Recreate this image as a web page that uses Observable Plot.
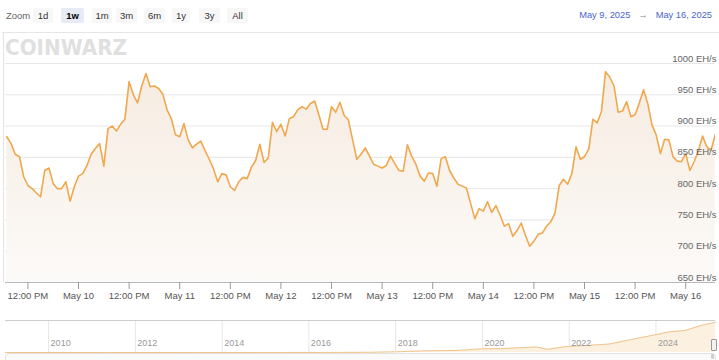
<!DOCTYPE html>
<html>
<head>
<meta charset="utf-8">
<script src="https://cdn.jsdelivr.net/npm/d3@7"></script>
<script src="https://cdn.jsdelivr.net/npm/@observablehq/plot@0.6"></script>
<style>
  html, body { margin: 0; padding: 0; background: #fff; }
  #wrap { position: relative; width: 719px; height: 360px; overflow: hidden; background: #fff;
          font-family: "Liberation Sans", Arial, sans-serif; }
  .abs { position: absolute; }
  .btn { position: absolute; top: 8px; height: 15px; line-height: 15px; font-size: 9.5px; color: #333;
         background: #f7f7f7; text-align: center; border-radius: 2px; }
  .btn.sel { background: #e6ebf5; color: #000; font-weight: bold; }
  svg.plot { position: absolute; left: 0; background: transparent !important; }
</style>
</head>
<body>
<div id="wrap"></div>
<script>
// ---------- data ----------
const seriesStart = "2025-05-09T07:00:00Z";           // first hourly sample
const hashrate = [                                    // EH/s, hourly samples
  883, 872, 855, 851, 819, 805, 800, 793, 787, 829, 833, 808, 800, 800, 811, 780, 803,
  820, 824, 837, 855, 864, 872, 836, 896, 900, 892, 903, 911, 971, 950, 937, 964, 984,
  963, 964, 960, 951, 926, 912, 886, 883, 904, 878, 865, 871, 876, 861, 847, 832, 811,
  824, 822, 803, 797, 811, 818, 816, 834, 845, 871, 842, 849, 906, 891, 903, 884, 912,
  915, 926, 931, 927, 936, 940, 918, 895, 895, 931, 922, 938, 917, 910, 878, 847, 855,
  865, 852, 839, 836, 833, 837, 852, 840, 829, 828, 870, 852, 839, 820, 812, 825, 824,
  804, 848, 851, 829, 817, 807, 804, 801, 776, 752, 768, 764, 779, 762, 773, 757, 740,
  744, 724, 733, 745, 725, 708, 716, 727, 729, 740, 747, 761, 805, 815, 807, 824, 867,
  847, 851, 863, 911, 905, 923, 987, 978, 964, 922, 924, 939, 915, 918, 937, 958, 936,
  902, 886, 856, 879, 878, 851, 844, 843, 856, 829, 843, 860, 884, 867, 861, 886
];
const yTicks = [650, 700, 750, 800, 850, 900, 950, 1000];
const viewStart = "2025-05-09T06:41:00Z";
const viewEnd = "2025-05-16T07:04:00Z";
const zoomButtons = ["1d", "1w", "1m", "3m", "6m", "1y", "3y", "All"];
const selectedButton = "1w";
const rangeFrom = "May 9, 2025";
const rangeTo = "May 16, 2025";

// navigator (full history, EH/s)
const navDates = ["2009-01-03", "2011-06-01", "2013-06-01", "2014-12-01", "2016-06-01", "2017-06-01",
  "2018-01-01", "2018-09-01", "2019-06-01", "2020-01-01", "2020-06-01", "2021-04-01", "2021-07-01",
  "2021-12-01", "2022-06-01", "2022-12-01", "2023-06-01", "2024-01-01", "2024-05-01", "2024-09-01",
  "2025-01-01", "2025-05-16"];
const navValues = [0, 0, 0.1, 0.3, 1.5, 6, 20, 50, 60, 110, 115, 165, 95, 175, 210, 250, 380, 530,
  620, 650, 790, 900];
const navYears = [2010, 2012, 2014, 2016, 2018, 2020, 2022, 2024];

// ---------- build ----------
const wrap = document.getElementById("wrap");
const t0 = new Date(seriesStart);
const data = hashrate.map((v, i) => ({ t: d3.utcHour.offset(t0, i), v }));
const x0 = new Date(viewStart), x1 = new Date(viewEnd);
const xTicks = d3.utcHour.every(12).range(x0, x1);
const fmtDay = d3.utcFormat("%b %-d");
const tickFmt = d => d.getUTCHours() === 12 ? "12:00 PM" : fmtDay(d);

const gradient = (index, scales, values, dims) => {
  const defs = d3.create("svg:defs");
  const g = defs.append("linearGradient").attr("id", "areaGrad")
    .attr("gradientUnits", "userSpaceOnUse")
    .attr("x1", 0).attr("x2", 0)
    .attr("y1", scales.y(1000)).attr("y2", scales.y(650));
  g.append("stop").attr("offset", "0%").attr("stop-color", "#f6ebe0");
  g.append("stop").attr("offset", "100%").attr("stop-color", "#fcfaf8");
  return defs.node();
};

const main = Plot.plot({
  width: 719, height: 280,
  marginTop: 30, marginBottom: 31, marginLeft: 5, marginRight: 4,
  style: { fontFamily: "Liberation Sans, Arial, sans-serif", fontSize: "9.5px", background: "transparent" },
  x: { type: "utc", domain: [x0, x1] },
  y: { domain: [650, 1000] },
  marks: [
    gradient,
    Plot.gridY(yTicks, { stroke: "#e6e6e6", strokeOpacity: 1 }),
    Plot.areaY(data, { x: "t", y: "v", fill: "url(#areaGrad)", clip: true }),
    Plot.lineY(data, { x: "t", y: "v", stroke: "#f0a84e", strokeWidth: 1.6, clip: true }),
    Plot.ruleY([650], { stroke: "#b8b8b8" }),
    Plot.axisX({ ticks: xTicks, tickFormat: tickFmt, tickSize: 7, tickPadding: 3,
                 stroke: "#9a9a9a", fill: "#555", label: null }),
    Plot.axisY({ ticks: [], label: null }),
    Plot.text(yTicks, { y: d => d, text: d => `${d} EH/s`, frameAnchor: "right", textAnchor: "end",
                        dx: 1, dy: -5, fill: "#666" })
  ]
});
main.classList.add("plot");
main.style.top = "33px";
wrap.appendChild(main);

const navData = navDates.map((d, i) => ({ t: new Date(d + "T00:00:00Z"), v: navValues[i] }));
const navYearDates = navYears.map(y => new Date(Date.UTC(y, 0, 1)));
const nav = Plot.plot({
  width: 719, height: 46,
  marginTop: 6, marginBottom: 8, marginLeft: 5, marginRight: 4,
  style: { fontFamily: "Liberation Sans, Arial, sans-serif", fontSize: "9px", background: "transparent" },
  x: { type: "utc", domain: [new Date("2009-01-03T00:00:00Z"), new Date("2025-05-16T07:00:00Z")] },
  y: { domain: [0, 950], axis: null },
  marks: [
    Plot.gridX(navYearDates, { stroke: "#e6e6e6", strokeOpacity: 1 }),
    Plot.areaY(navData, { x: "t", y: "v", fill: "#fcf0e1" }),
    Plot.lineY(navData, { x: "t", y: "v", stroke: "#f2c48c", strokeWidth: 1 }),
    Plot.text(navYearDates, { x: d => d, text: d => String(d.getUTCFullYear()), frameAnchor: "bottom",
                              textAnchor: "start", dx: 2, dy: -7, fill: "#999" }),
    Plot.ruleY([950], { stroke: "#cccccc" }),
    Plot.axisX({ ticks: [], label: null })
  ]
});
nav.classList.add("plot");
nav.style.top = "314px";
wrap.appendChild(nav);

// ---------- chrome (toolbar, borders, logo, range) ----------
function div(style, text, cls) {
  const d = document.createElement("div");
  d.className = cls || "abs";
  Object.assign(d.style, style);
  if (text != null) d.textContent = text;
  wrap.appendChild(d);
  return d;
}
div({ left: "2px", top: "32px", width: "717px", height: "1px", background: "#e6e6e6" });
div({ left: "3px", top: "32px", width: "1px", height: "250px", background: "#e3e3e3" });
div({ left: "6px", top: "8px", height: "15px", lineHeight: "15px", fontSize: "9.5px", color: "#666" }, "Zoom");
const btnX = [33, 61, 92, 116, 144, 172, 199, 227];
const btnW = [20, 23, 20, 21, 21, 18, 21, 21];
zoomButtons.forEach((b, i) => {
  div({ left: btnX[i] + "px", width: btnW[i] + "px" }, b, "btn" + (b === selectedButton ? " sel" : ""));
});
const rng = div({ right: "7px", top: "8px", height: "15px", lineHeight: "15px", fontSize: "9.3px",
                  color: "#4a66c9", whiteSpace: "nowrap" });
rng.innerHTML = `<span>${rangeFrom}</span><span style="color:#888;margin:0 8px">→</span><span>${rangeTo}</span>`;

// logo watermark
const logo = document.createElementNS("http://www.w3.org/2000/svg", "svg");
logo.setAttribute("width", "140"); logo.setAttribute("height", "34");
logo.style.overflow = "visible";
Object.assign(logo.style, { position: "absolute", left: "5px", top: "30px" });
logo.innerHTML = `<text x="0" y="25" textLength="122" lengthAdjust="spacingAndGlyphs"
  font-family="DejaVu Sans" font-weight="bold" font-size="22" fill="#e0e0e0">COINWARZ</text>`;
wrap.appendChild(logo);

// navigator handle + scrollbar
div({ left: "5px", top: "353px", width: "709px", height: "10px", border: "1px solid #e2e2e2",
      borderRadius: "4px", background: "#fafafa" });
div({ left: "711px", top: "339px", width: "4px", height: "10px", border: "1px solid #9a9a9a",
      background: "#f2f2f2", borderRadius: "1px" });
div({ left: "711px", top: "354px", width: "3px", height: "5px", background: "#cfcfcf", borderRadius: "1px" });
</script>
</body>
</html>
